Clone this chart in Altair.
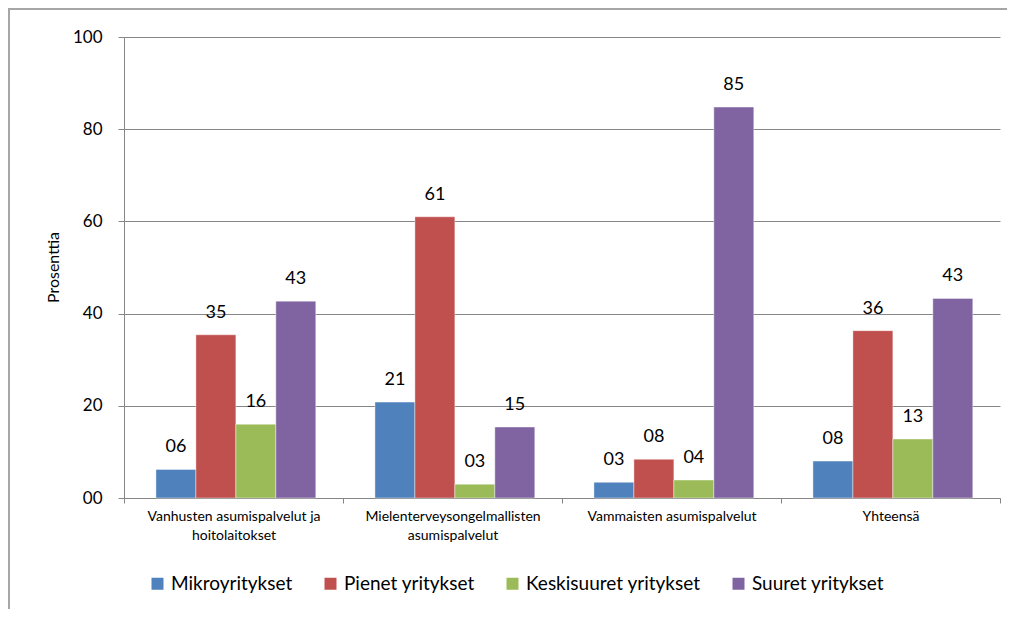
import altair as alt
import pandas as pd

categories = [
    "Vanhusten asumispalvelut ja hoitolaitokset",
    "Mielenterveysongelmallisten asumispalvelut",
    "Vammaisten asumispalvelut",
    "Yhteensä",
]
series = ["Mikroyritykset", "Pienet yritykset", "Keskisuuret yritykset", "Suuret yritykset"]
mikro = [6.2, 20.8, 3.4, 8.0]
pienet = [35.4, 61.0, 8.4, 36.3]
keski = [16.0, 3.0, 3.9, 12.8]
suuret = [42.7, 15.4, 84.8, 43.3]
colors = ["#4F81BD", "#C0504D", "#9BBB59", "#8064A2"]
y_ticks = [0, 20, 40, 60, 80, 100]

rows = []
for s, vals in zip(series, [mikro, pienet, keski, suuret]):
    for c, v in zip(categories, vals):
        rows.append({"Toimiala": c, "Sarja": s, "Prosenttia": v})
df = pd.DataFrame(rows)

FONT = "Lato"

label_expr = (
    "datum.label == 'Vanhusten asumispalvelut ja hoitolaitokset' ? "
    "['Vanhusten asumispalvelut ja', 'hoitolaitokset'] : "
    "datum.label == 'Mielenterveysongelmallisten asumispalvelut' ? "
    "['Mielenterveysongelmallisten', 'asumispalvelut'] : datum.label"
)

x_enc = alt.X(
    "Toimiala:N",
    sort=categories,
    title=None,
    scale=alt.Scale(paddingInner=0, paddingOuter=0),
    axis=alt.Axis(
        labelAngle=0,
        labelExpr=label_expr,
        labelFontSize=14,
        labelLineHeight=19,
        labelPadding=6,
        tickBand="extent",
        tickSize=5,
        grid=False,
        labelLimit=400,
    ),
)
xoff_enc = alt.XOffset(
    "Sarja:N",
    sort=series,
    scale=alt.Scale(paddingOuter=0.74, paddingInner=0, align=0.54),
)
y_enc = alt.Y(
    "Prosenttia:Q",
    scale=alt.Scale(domain=[0, 100], nice=False),
    axis=alt.Axis(
        values=y_ticks,
        format="02d",
        title="Prosenttia",
        titleFontSize=16,
        titleFontWeight="normal",
        titleX=-71,
        titleY=230,
        titleAngle=270,
        titleAlign="center",
        titleBaseline="middle",
        labelFontSize=17,
        labelPadding=16,
        tickSize=6,
    ),
)

base = alt.Chart(df)

bars = base.mark_bar(stroke="white", strokeWidth=0.6, strokeOpacity=0.7).encode(
    x=x_enc,
    xOffset=xoff_enc,
    y=y_enc,
    color=alt.Color(
        "Sarja:N",
        sort=series,
        scale=alt.Scale(domain=series, range=colors),
        legend=alt.Legend(
            title=None,
            orient="none",
            direction="horizontal",
            legendX=24,
            legendY=537,
            symbolType="square",
            symbolSize=144,
            symbolStrokeWidth=0,
            labelFontSize=19,
            labelOffset=4,
            columnPadding=28,
            labelLimit=300,
            padding=0,
        ),
    ),
)

labels = base.mark_text(
    baseline="alphabetic", dy=-17, fontSize=18, color="black", font=FONT
).encode(
    x=alt.X("Toimiala:N", sort=categories),
    xOffset=alt.XOffset("Sarja:N", sort=series),
    y=alt.Y("Prosenttia:Q"),
    text=alt.Text("Prosenttia:Q", format="02.0f"),
)

frame = alt.Chart(alt.Data(values=[{"a": 1}])).mark_rect(
    filled=False, stroke="#a6a6a6", strokeWidth=2
).encode(
    x=alt.value(-115), x2=alt.value(1000), y=alt.value(-28), y2=alt.value(700)
)

chart = (
    alt.layer(frame, bars, labels)
    .properties(
        width=876,
        height=461,
        autosize=alt.AutoSizeParams(type="none"),
        padding={"left": 116, "top": 29, "right": 7, "bottom": 111},
    )
    .configure(font=FONT)
    .configure_view(stroke=None)
    .configure_axis(
        domainColor="#868686",
        tickColor="#868686",
        gridColor="#868686",
        gridWidth=1,
        labelColor="black",
        titleColor="black",
        labelFont=FONT,
        titleFont=FONT,
    )
    .configure_legend(labelFont=FONT, labelColor="black")
)

chart.save("out.html", embed_options={"renderer": "svg", "actions": False})
